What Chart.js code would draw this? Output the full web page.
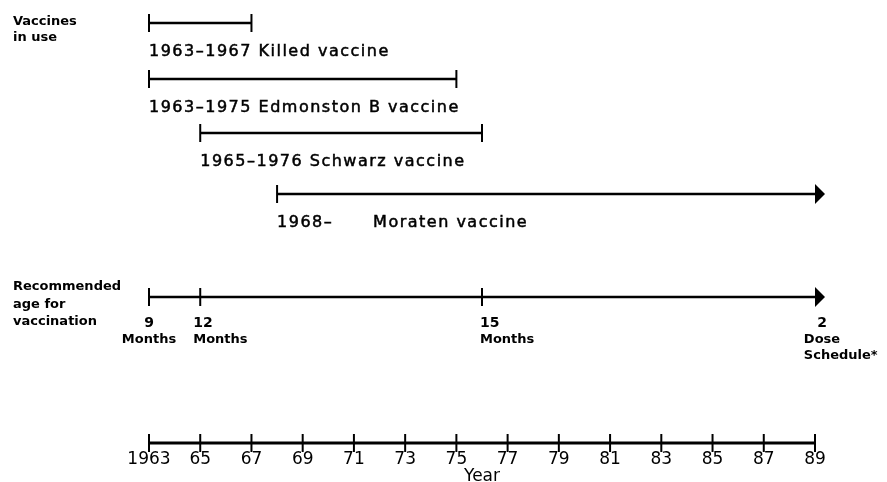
<!DOCTYPE html>
<html><head><meta charset="utf-8">
<script src="https://cdn.jsdelivr.net/npm/chart.js@4.4.0/dist/chart.umd.min.js"></script>
<style>html,body{margin:0;padding:0;background:#fff;}canvas{display:block;}</style>
</head><body>
<canvas id="c" width="887" height="482"></canvas>
<script>
// ---------- data ----------
const vaccineNames   = ['Killed vaccine', 'Edmonston B vaccine', 'Schwarz vaccine', 'Moraten vaccine'];
const vaccineStart   = [1963, 1963, 1965, 1968];
const vaccineEnd     = [1967, 1975, 1976, null];      // null = still in use
const periodLabels   = ['1963\u20131967', '1963\u20131975', '1965\u20131976', '1968\u2013'];
const ageYears       = [1963, 1965, 1976, 1989];
const ageLabels      = [['9', 'Months'], ['12', 'Months'], ['15', 'Months'], ['2', 'Dose', 'Schedule*']];
const axisYears      = [1963, 1965, 1967, 1969, 1971, 1973, 1975, 1977, 1979, 1981, 1983, 1985, 1987, 1989];
const axisTickLabels = ['1963', '65', '67', '69', '71', '73', '75', '77', '79', '81', '83', '85', '87', '89'];
const timelineEnd    = 1989;
const groupTitles    = [['Vaccines', 'in use'], ['Recommended', 'age for', 'vaccination']];
const axisTitle      = 'Year';

// ---------- layout ----------
const W = 887, H = 482;
const PX_PER_YEAR = 666 / 26;
const X_MIN = 1963 - 149 / PX_PER_YEAR;
const X_MAX = X_MIN + W / PX_PER_YEAR;
const PLOT_BOTTOM = 448;
const vaccineRowY = [23, 79, 133, 194];
const ageRowY = 297;
const axisRowY = 443;
const LABEL_FONT = '16px "DejaVu Sans"';
const SMALL_FONT = 'bold 13px "DejaVu Sans"';
const NUM_FONT = 'bold 14px "DejaVu Sans"';

// arrow head image
const arrow = document.createElement('canvas');
arrow.width = 24; arrow.height = 22;
(function () {
  const a = arrow.getContext('2d');
  a.fillStyle = '#000';
  a.beginPath();
  a.moveTo(12, 1); a.lineTo(22, 11); a.lineTo(12, 21); a.closePath();
  a.fill();
})();

const lineStyle = {
  borderColor: '#000', backgroundColor: '#000', borderWidth: 2.5,
  pointBorderColor: '#000', pointBackgroundColor: '#000',
  pointBorderWidth: 2, pointRadius: 9, showLine: true, clip: false, tension: 0
};

const datasets = [];
vaccineNames.forEach((name, i) => {
  const open = vaccineEnd[i] === null;
  const end = open ? timelineEnd : vaccineEnd[i];
  datasets.push(Object.assign({}, lineStyle, {
    label: name,
    data: [{ x: vaccineStart[i], y: vaccineRowY[i] }, { x: end, y: vaccineRowY[i] }],
    pointStyle: ['line', open ? arrow : 'line'],
    rotation: [90, open ? 0 : 90]
  }));
});
datasets.push(Object.assign({}, lineStyle, {
  label: 'Recommended age',
  data: ageYears.map(v => ({ x: v, y: ageRowY })),
  pointStyle: ageYears.map((v, i) => i === ageYears.length - 1 ? arrow : 'line'),
  rotation: ageYears.map((v, i) => i === ageYears.length - 1 ? 0 : 90)
}));
datasets.push(Object.assign({}, lineStyle, {
  label: 'Year axis',
  borderWidth: 3,
  data: axisYears.map(v => ({ x: v, y: axisRowY })),
  pointStyle: 'line', rotation: 90
}));

function boldText(ctx, s, x, y) {
  ctx.fillText(s, x, y);
  ctx.strokeText(s, x, y);
}

const textPlugin = {
  id: 'texts',
  afterDatasetsDraw(chart) {
    const { ctx, scales: { x, y } } = chart;
    ctx.save();
    ctx.fillStyle = '#000';
    ctx.strokeStyle = '#000';
    ctx.lineWidth = 0.5;
    ctx.textBaseline = 'alphabetic';
    ctx.textAlign = 'left';
    // group titles
    ctx.font = SMALL_FONT;
    groupTitles[0].forEach((s, k) => ctx.fillText(s, 13, 25 + k * 16));
    groupTitles[1].forEach((s, k) => ctx.fillText(s, 13, 290 + k * 17.5));
    // vaccine labels
    ctx.font = LABEL_FONT;
    ctx.letterSpacing = '1.5px';
    vaccineNames.forEach((name, i) => {
      const x0 = x.getPixelForValue(vaccineStart[i]);
      const yb = y.getPixelForValue(vaccineRowY[i]) + 33;
      if (vaccineEnd[i] === null) {
        boldText(ctx, periodLabels[i], x0, yb);
        boldText(ctx, name, x0 + 96, yb);
      } else {
        boldText(ctx, periodLabels[i] + ' ' + name, x0, yb);
      }
    });
    ctx.letterSpacing = '0px';
    // age labels
    const yb0 = y.getPixelForValue(ageRowY) + 30;
    ageLabels.forEach((lines, i) => {
      const px = x.getPixelForValue(ageYears[i]);
      lines.forEach((s, k) => {
        ctx.font = k === 0 ? NUM_FONT : SMALL_FONT;
        const yb = yb0 + k * 16;
        if (i === 0) { ctx.textAlign = 'center'; ctx.fillText(s, px, yb); }
        else if (i < 3) { ctx.textAlign = 'left'; ctx.fillText(s, px - (i === 1 ? 7 : 2), yb); }
        else {
          const c = px + 7;
          if (k < 2) { ctx.textAlign = 'center'; ctx.fillText(s, c, yb); }
          else {
            ctx.textAlign = 'left';
            ctx.font = SMALL_FONT;
            const dw = ctx.measureText(lines[1]).width;
            ctx.fillText(s, c - dw / 2, yb);
          }
        }
      });
    });
    // axis title, centred under the year axis
    ctx.font = '17px "DejaVu Sans"';
    ctx.textAlign = 'center';
    ctx.fillText(axisTitle, x.getPixelForValue((axisYears[0] + axisYears[axisYears.length - 1]) / 2), 481);
    ctx.restore();
  }
};

new Chart(document.getElementById('c'), {
  type: 'scatter',
  data: { datasets },
  plugins: [textPlugin],
  options: {
    responsive: false, animation: false, devicePixelRatio: 1, events: [],
    layout: { padding: 0, autoPadding: false },
    plugins: { legend: { display: false }, tooltip: { enabled: false } },
    scales: {
      y: { type: 'linear', display: false, min: 0, max: PLOT_BOTTOM, reverse: true },
      x: {
        type: 'linear', position: 'bottom', min: X_MIN, max: X_MAX,
        grid: { display: false, drawTicks: false }, border: { display: false },
        afterBuildTicks: s => { s.ticks = axisYears.map(v => ({ value: v })); },
        afterFit: s => { s.height = H - PLOT_BOTTOM; },
        ticks: {
          autoSkip: false, maxRotation: 0, minRotation: 0, padding: 3, color: '#000',
          font: { family: 'DejaVu Sans', size: 17, lineHeight: 1 },
          callback: v => axisTickLabels[axisYears.indexOf(v)]
        },
        title: { display: false }
      }
    }
  }
});
</script>
</body></html>
